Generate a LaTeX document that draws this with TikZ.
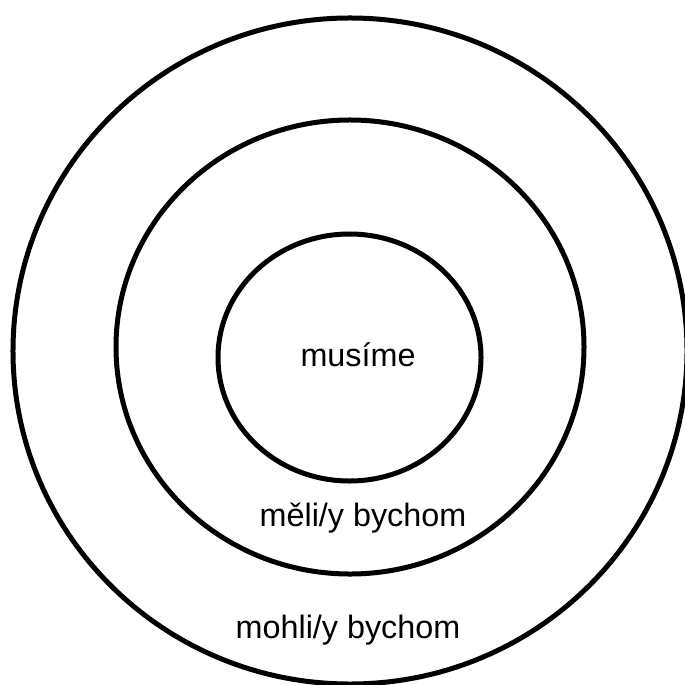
\documentclass[tikz,border=0pt]{standalone}
\usepackage{fontspec}
\setmainfont{Liberation Sans}
\usetikzlibrary{shapes.geometric,positioning}

\begin{document}
\begin{tikzpicture}[
  x=0.25mm,y=-0.25mm,
  font=\fontsize{23}{27}\selectfont,
  ring/.style={draw=black,ellipse,line width=1.25mm,inner sep=0pt},
  tag/.style={anchor=base,inner sep=0pt}
]
  \useasboundingbox (0,0) rectangle (685,685);
  \fill[white] (0,0) rectangle (685,685);

  \node[ring,minimum width=168.5mm,minimum height=166.5mm] (could) at (350,351) {};
  \node[ring,minimum width=117mm,minimum height=113.5mm] (should) at (350,347) {};
  \node[ring,minimum width=65.75mm,minimum height=61.75mm] (must) at (349.5,357.5) {};

  \node[tag] (mustlbl) at (358,366) {musíme};
  \node[tag] (shouldlbl) at (363,526) {měli/y bychom};
  \node[tag] (couldlbl) at (348,638) {mohli/y bychom};
\end{tikzpicture}
\end{document}
